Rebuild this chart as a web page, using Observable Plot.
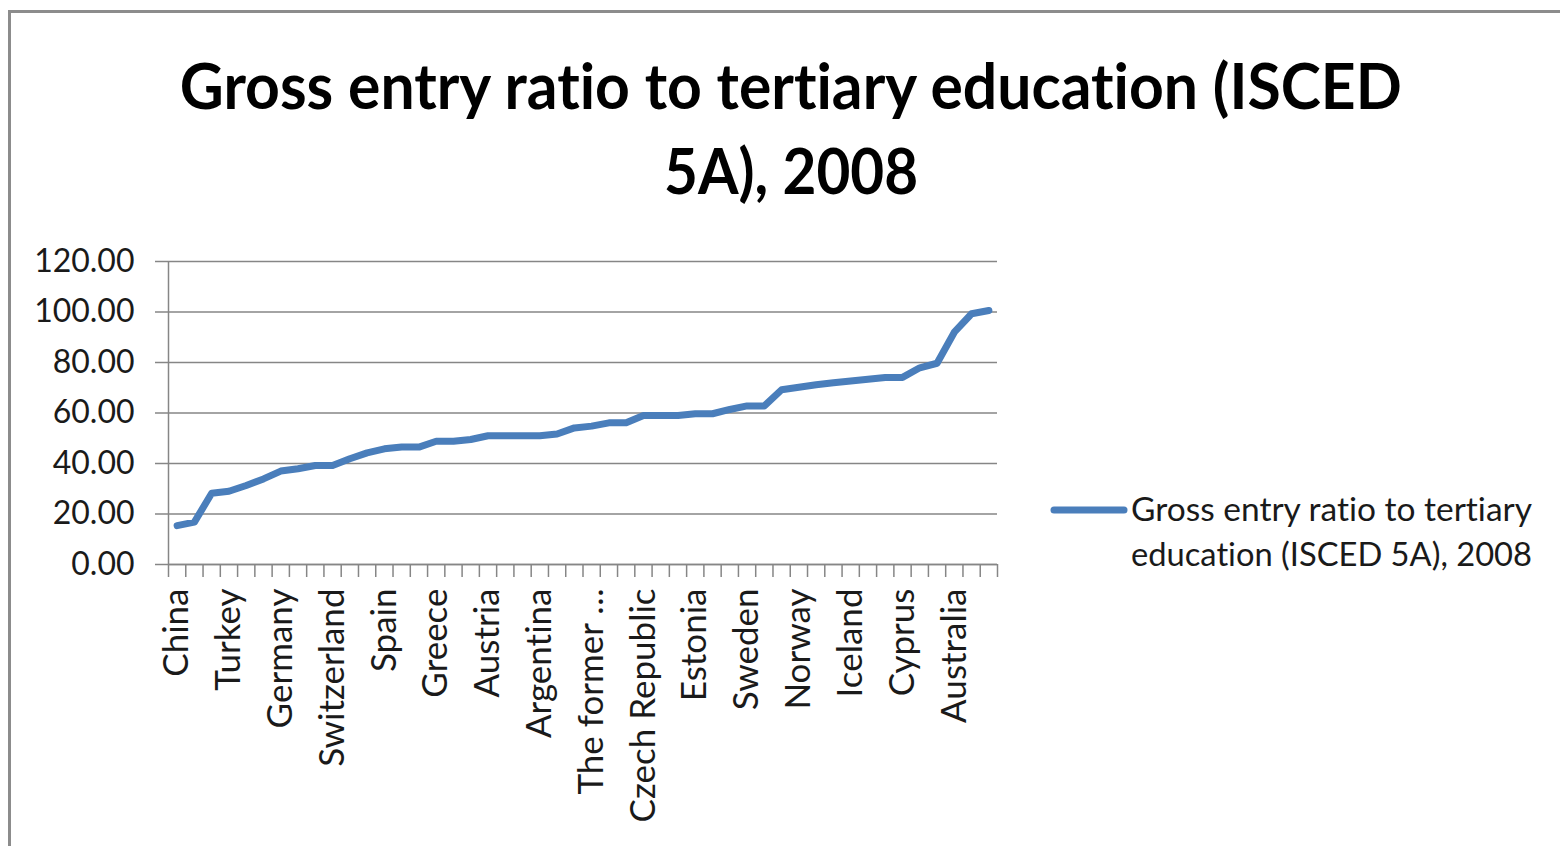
<!DOCTYPE html>
<html>
<head>
<meta charset="utf-8">
<script src="https://cdn.jsdelivr.net/npm/d3@7"></script>
<script src="https://cdn.jsdelivr.net/npm/@observablehq/plot@0.6"></script>
<style>
  html, body { margin: 0; padding: 0; background: #fff; }
  * { font-variant-ligatures: none; font-feature-settings: "liga" 0, "clig" 0; }
  #wrap { position: relative; width: 1560px; height: 846px; overflow: hidden; }
  #frame { position: absolute; left: 8px; top: 10px; width: 1700px; height: 1000px;
           border-left: 3px solid #8c8c8c; border-top: 3px solid #8c8c8c; box-sizing: border-box; }
  #title { position: absolute; left: 0; width: 1582px; top: 42px; text-align: center;
           font-family: Lato, "Open Sans", sans-serif; font-weight: 700; font-size: 64px;
           line-height: 85px; color: #000; }
  #title span { display: inline-block; transform-origin: center; }
  #legend { position: absolute; left: 1050px; top: 486px; font-family: Lato, "Open Sans", sans-serif;
            font-size: 33px; line-height: 45px; color: #1a1a1a; }
  #legend .txt { position: absolute; left: 81px; top: 0; white-space: nowrap; }
  #chart { position: absolute; left: 0; top: 0; }
</style>
</head>
<body>
<div id="wrap">
  <div id="frame"></div>
  <div id="chart"></div>
  <div id="title"><span id="t1">Gross entry ratio to tertiary education (ISCED</span><br><span id="t2">5A), 2008</span></div>
  <div id="legend">
    <svg width="80" height="20" style="position:absolute;left:0;top:14px"><line x1="4" y1="10" x2="74" y2="10" stroke="#4A7EBB" stroke-width="7" stroke-linecap="round"/></svg>
    <div class="txt"><span id="l1">Gross entry ratio to tertiary</span><br><span id="l2">education (ISCED 5A), 2008</span></div>
  </div>
</div>
<script>
const countries = [
  "China", "Indonesia", "Belgium", "Turkey", "Chile", "Brazil",
  "Germany", "Hong Kong, China", "Mexico", "Switzerland", "France", "Japan",
  "Spain", "Saudi Arabia", "Luxembourg", "Greece", "Italy", "Ireland",
  "Austria", "Hungary", "Israel", "Argentina", "Korea", "Slovenia",
  "The former Yugoslav Republic of Macedonia", "Netherlands", "United Kingdom", "Czech Republic", "Denmark", "Slovakia",
  "Estonia", "United States", "Latvia", "Sweden", "Lithuania", "Finland",
  "Norway", "Poland", "New Zealand", "Iceland", "Russian Federation", "Portugal",
  "Cyprus", "Kyrgyzstan", "Belarus", "Australia", "Ukraine", "Cuba"
];
const values = [
  15.4, 16.8, 28.2, 29.0, 31.3, 33.9,
  37.0, 37.9, 39.2, 39.2, 41.9, 44.2,
  45.8, 46.5, 46.5, 48.8, 48.8, 49.5,
  51.0, 51.0, 51.0, 51.0, 51.7, 54.1,
  54.8, 56.1, 56.1, 59.0, 59.0, 59.0,
  59.7, 59.7, 61.4, 62.8, 62.8, 69.2,
  70.2, 71.2, 72.0, 72.7, 73.4, 74.1,
  74.1, 77.9, 79.7, 92.0, 99.3, 100.6
];
// Excel shows every third category label, the long one truncated
const tickLabels = [
  "China", "Turkey", "Germany", "Switzerland", "Spain", "Greece", "Austria", "Argentina",
  "The former …", "Czech Republic", "Estonia", "Sweden", "Norway", "Iceland", "Cyprus", "Australia"
];
const yTicks = [0, 20, 40, 60, 80, 100, 120];

const data = countries.map((c, i) => ({ i, country: c, value: values[i] }));
const labelIdx = tickLabels.map((_, k) => k * 3);
const boundaries = d3.range(countries.length + 1).map(k => k - 0.5);

const chart = Plot.plot({
  width: 1560,
  height: 846,
  marginLeft: 168,
  marginRight: 563,
  marginTop: 261,
  marginBottom: 282,
  style: { fontFamily: "Lato, 'Open Sans', sans-serif", fontSize: "30px", color: "#1a1a1a", background: "transparent", overflow: "visible" },
  x: { type: "linear", domain: [-0.5, countries.length - 0.5] },
  y: { domain: [0, 120] },
  marks: [
    Plot.gridY(yTicks, { stroke: "#868686", strokeOpacity: 1, strokeWidth: 1.5 }),
    Plot.ruleX([-0.5], { stroke: "#868686", strokeWidth: 1.5 }),
    Plot.ruleY([0], { stroke: "#868686", strokeWidth: 1.5 }),
    Plot.axisY(yTicks, { tickSize: 13, tickPadding: 21, tickFormat: d => d.toFixed(2), stroke: "#868686", strokeOpacity: 1, strokeWidth: 1.5, fill: "#1a1a1a", fontSize: 32, label: null }),
    Plot.axisX(boundaries, { tickSize: 13, tickFormat: () => "", stroke: "#868686", strokeOpacity: 1, strokeWidth: 1.5, label: null }),
    Plot.axisX(labelIdx, { tickSize: 0, tickRotate: -90, tickPadding: 24, tickFormat: i => tickLabels[i / 3], fill: "#1a1a1a", fontSize: 35, label: null }),
    Plot.line(data, { x: "i", y: "value", stroke: "#4A7EBB", strokeWidth: 7, strokeLinejoin: "round", strokeLinecap: "round" })
  ]
});
document.getElementById("chart").appendChild(chart);

// fit text widths to the reference's narrow font
function fit(id, w) {
  const el = document.getElementById(id);
  const cw = el.getBoundingClientRect().width;
  if (cw > 0) el.style.transform = `scaleX(${w / cw})`;
}
fit("t1", 1222);
fit("t2", 254);
["l1", "l2"].forEach(id => {
  const el = document.getElementById(id);
  el.style.display = "inline-block";
  el.style.transformOrigin = "left";
});
fit("l1", 401);
fit("l2", 401);
</script>
</body>
</html>
